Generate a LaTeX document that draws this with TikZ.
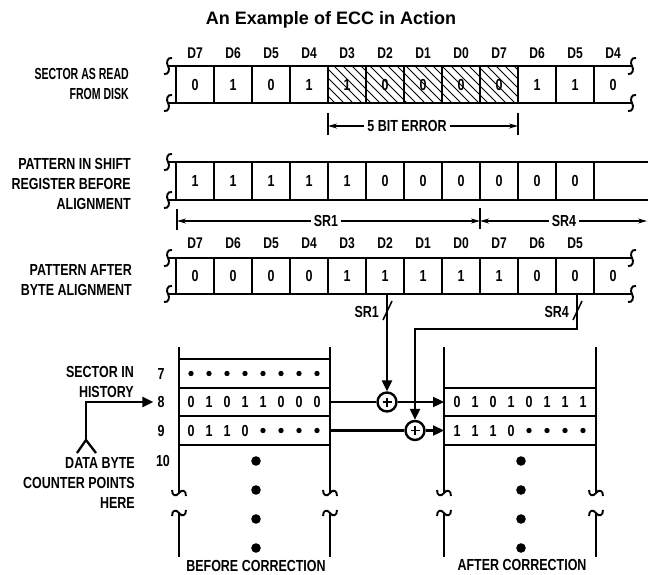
\documentclass[tikz,border=0pt]{standalone}
\usepackage{fontspec}
\setmainfont{Liberation Sans}
\newfontfamily\condf[FakeStretch=0.78]{Liberation Sans}
\newfontfamily\condg[FakeStretch=0.66]{Liberation Sans}
\usetikzlibrary{arrows.meta}
\begin{document}
\begin{tikzpicture}[x=1pt,y=-1pt,
  lbl/.style={font=\condf\bfseries\fontsize{16}{20}\selectfont,align=right,anchor=east,inner sep=0pt},
  dig/.style={font=\condf\bfseries\fontsize{16}{16}\selectfont,inner sep=0pt},
  hdr/.style={font=\condf\bfseries\fontsize{15.5}{16}\selectfont,inner sep=0pt},
  rowline/.style={line width=2.8pt},
  sepline/.style={line width=2.3pt},
  dimline/.style={line width=1.2pt},
  dimtip/.style={-{Stealth[length=9pt,width=5pt]}},
  flow/.style={line width=2.3pt,-{Triangle[length=11pt,width=10pt]}},
  brk/.style={line width=1.9pt},
  xorc/.style={circle,draw,line width=2.4pt,minimum size=19pt,inner sep=0pt},
  vbrk/.pic={\draw[brk] (4,-8) .. controls (-1,-9) and (-2,-3) .. (0,0) .. controls (2,3) and (1,9) .. (-4,8);},
  hbrk/.pic={\draw[brk] (-7,-3) .. controls (-7,3) and (-3,4) .. (0,0) .. controls (3,-4) and (7,-3) .. (7,3);},
]
\useasboundingbox (0,0) rectangle (648,575);

% title
\node[font=\bfseries\fontsize{18}{18}\selectfont,inner sep=0pt] (title) at (331,20) {An Example of ECC in Action};

% ---------- row 1 : sector as read ----------
\begin{scope}
  \clip (328,66) rectangle (518,103);
  \foreach \x in {280,289,...,520} \draw[line width=0.9pt] (\x,66) -- ++(37,37);
\end{scope}
\draw[rowline] (168,66) -- (632,66);
\draw[rowline] (168,103) -- (632,103);
\foreach \k in {0,...,11} \draw[sepline] ({176+38*\k},66) -- ({176+38*\k},103);
\draw[rowline] (176,66) -- (176,103);
\pic at (168,66) {vbrk}; \pic at (168,103) {vbrk};
\pic at (632,66) {vbrk}; \pic at (632,103) {vbrk};
\foreach \d [count=\i] in {D7,D6,D5,D4,D3,D2,D1,D0,D7,D6,D5,D4}
  \node[hdr] (ha\i) at ({157+38*\i},53) {\d};
\foreach \v [count=\i] in {0,1,0,1,1,0,0,0,0,1,1,0}
  \node[dig] (a\i) at ({157+38*\i},84.5) {\v};
\node[lbl,font=\condg\bfseries\fontsize{16}{20}\selectfont] (l1) at (129,84) {SECTOR AS READ\\FROM DISK};

% 5 bit error
\draw[dimline] (328,113) -- (328,135);
\draw[dimline] (518,113) -- (518,135);
\coordinate (errL) at (328,126);
\coordinate (errR) at (518,126);
\node[dig] (err) at (407,126) {5 BIT ERROR};
\draw[dimline,dimtip,shorten <=3pt] (err.west) -- (errL);
\draw[dimline,dimtip,shorten <=3pt] (err.east) -- (errR);

% ---------- row 2 : shift register ----------
\draw[rowline] (168,162) -- (648,162);
\draw[rowline] (168,200) -- (648,200);
\foreach \k in {0,...,11} \draw[sepline] ({176+38*\k},162) -- ({176+38*\k},200);
\draw[rowline] (176,162) -- (176,200);
\pic at (168,162) {vbrk}; \pic at (168,200) {vbrk};
\foreach \v [count=\i] in {1,1,1,1,1,0,0,0,0,0,0}
  \node[dig] (b\i) at ({157+38*\i},181) {\v};
\node[lbl] (l2) at (131,184) {PATTERN IN SHIFT\\REGISTER BEFORE\\ALIGNMENT};

% SR1 / SR4 dimensions
\draw[dimline] (177,209) -- (177,230);
\draw[dimline] (480,208) -- (480,229);
\coordinate (s1L) at (177,221);
\coordinate (s1R) at (480,221);
\coordinate (s4R) at (647,221);
\node[dig] (sr1d) at (326,221) {SR1};
\node[dig] (sr4d) at (564,221) {SR4};
\draw[dimline,dimtip,shorten <=3pt] (sr1d.west) -- (s1L);
\draw[dimline,dimtip,shorten <=3pt] (sr1d.east) -- (s1R);
\draw[dimline,dimtip,shorten <=3pt] (sr4d.west) -- (s1R);
\draw[dimline,dimtip,shorten <=3pt] (sr4d.east) -- (s4R);

% ---------- row 3 : after byte alignment ----------
\draw[rowline] (168,258) -- (632,258);
\draw[rowline] (168,294) -- (632,294);
\foreach \k in {0,...,11} \draw[sepline] ({176+38*\k},258) -- ({176+38*\k},294);
\draw[rowline] (176,258) -- (176,294);
\pic at (168,258) {vbrk}; \pic at (168,294) {vbrk};
\pic at (632,258) {vbrk}; \pic at (632,294) {vbrk};
\foreach \d [count=\i] in {D7,D6,D5,D4,D3,D2,D1,D0,D7,D6,D5}
  \node[hdr] (hc\i) at ({157+38*\i},243) {\d};
\foreach \v [count=\i] in {0,0,0,0,1,1,1,1,1,0,0,0}
  \node[dig] (c\i) at ({157+38*\i},276) {\v};
\node[lbl] (l3) at (132,280) {PATTERN AFTER\\BYTE ALIGNMENT};

% ---------- history columns ----------
\foreach \x in {179,330,444,596} {
  \draw[rowline] (\x,347) -- (\x,493);
  \draw[rowline] (\x,513) -- (\x,557);
  \pic at (\x,493) {hbrk};
  \pic[yscale=-1] at (\x,513) {hbrk};
}
\foreach \y in {359,388,416,445} \draw[sepline] (179,\y) -- (330,\y);
\foreach \y in {388,416,445} \draw[sepline] (444,\y) -- (596,\y);

% row numbers
\node[dig] (n7) at (161,373.5) {7};
\node[dig] (n8) at (161,402) {8};
\node[dig] (n9) at (161,430.5) {9};
\node[dig] (n10) at (163,461) {10};

% before correction contents
\foreach \j in {0,...,7} \fill ({191+18*\j},373.5) circle (2.7);
\foreach \v [count=\i] in {0,1,0,1,1,0,0,0}
  \node[dig] (p\i) at ({173+18*\i},402) {\v};
\foreach \v [count=\i] in {0,1,1,0}
  \node[dig] (q\i) at ({173+18*\i},430.5) {\v};
\foreach \j in {4,...,7} \fill ({191+18*\j},430.5) circle (2.7);
\foreach \y in {461,490,519,548} \fill (256,\y) circle (4.8);

% after correction contents
\foreach \v [count=\i] in {0,1,0,1,0,1,1,1}
  \node[dig] (u\i) at ({439+18*\i},402) {\v};
\foreach \v [count=\i] in {1,1,1,0}
  \node[dig] (w\i) at ({439+18*\i},430.5) {\v};
\foreach \j in {4,...,7} \fill ({457+18*\j},430.5) circle (2.7);
\foreach \y in {461,490,519,548} \fill (521,\y) circle (4.8);

\node[lbl] (l4) at (134,382) {SECTOR IN\\HISTORY};
\node[lbl] (l5) at (135,483) {DATA BYTE\\COUNTER POINTS\\HERE};
\node[dig] (bc) at (256,566) {BEFORE CORRECTION};
\node[dig] (ac) at (522,565) {AFTER CORRECTION};

% ---------- XOR gates and flows ----------
\node[xorc] (x1) at (387,402) {};
\node[xorc] (x2) at (415,430.5) {};
\foreach \g in {x1,x2} {
  \draw[line width=1.9pt] ([yshift=-4.5pt]\g.center) -- ([yshift=4.5pt]\g.center);
  \draw[line width=1.9pt] ([xshift=-4.5pt]\g.center) -- ([xshift=4.5pt]\g.center);
}
\coordinate (l8) at (330,402);
\coordinate (r8) at (444,402);
\coordinate (l9) at (330,430.5);
\coordinate (r9) at (444,430.5);
\draw[line width=2.3pt] (l8) -- (x1.west);
\draw[flow] (x1.east) -- (r8);
\draw[line width=2.3pt] (l9) -- (x2.west);
\draw[flow] (x2.east) -- (r9);

\coordinate (t1) at (387,295);
\draw[flow] (t1) -- (x1.north);
\draw[line width=1.5pt] (383,320) -- (392,301);
\node[dig,anchor=east] (lsr1) at (379,312) {SR1};

\coordinate (t4) at (577,295);
\coordinate (k1) at (577,329);
\coordinate (k2) at (415,329);
\draw[flow] (t4) -- (k1) -- (k2) -- (x2.north);
\draw[line width=1.5pt] (573,320) -- (582,301);
\node[dig,anchor=east] (lsr4) at (569,312) {SR4};

% data byte counter pointer
\coordinate (fk) at (86,440);
\coordinate (fa) at (77,453);
\coordinate (fb) at (96,453);
\draw[line width=2.3pt] (fa) -- (fk) -- (fb);
\draw[flow] (fk) |- ([xshift=-4pt]n8.west);
\end{tikzpicture}
\end{document}
